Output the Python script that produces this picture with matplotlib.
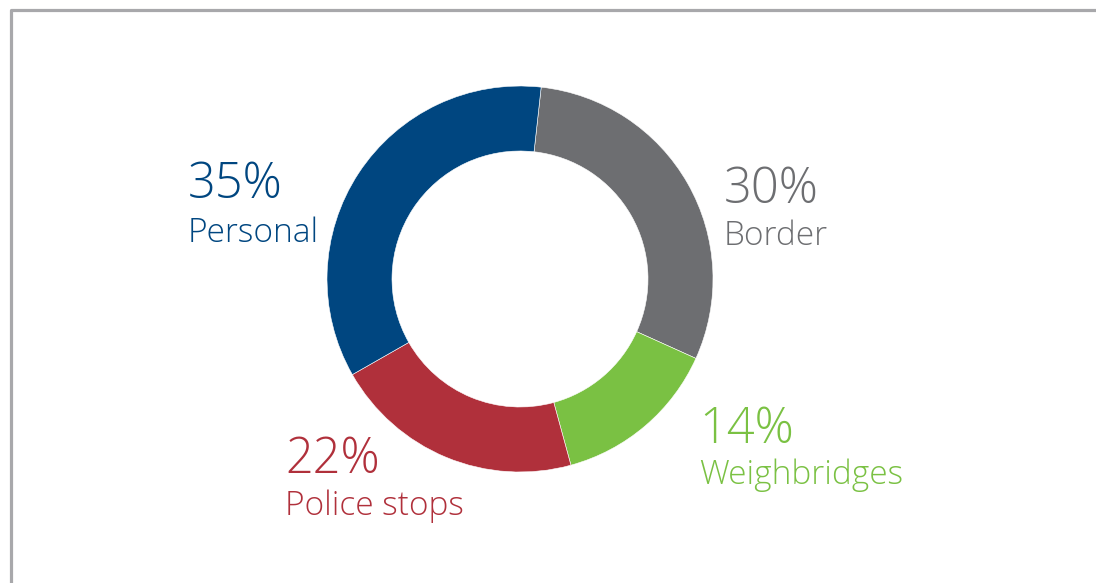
import matplotlib.pyplot as plt

# data (clockwise from top)
labels = ['Border', 'Weighbridges', 'Police stops', 'Personal']
pct_text = ['30%', '14%', '22%', '35%']
# slice sizes as drawn in the picture (measured from the arc angles)
shares = [30, 14, 21, 35]
colours = ['#6D6E71', '#7AC143', '#B0303B', '#004680']

# label anchor (pixel coords, top-down) for each segment
label_x = [724, 699, 285, 188]
pct_base = [203, 443, 473, 198]
name_base = [245, 484, 515, 242]

W, H = 1096, 583
fig = plt.figure(figsize=(W / 100, H / 100), dpi=100)
ax = fig.add_axes([0, 0, 1, 1])

# grey frame (left + top, runs off the page)
ax.plot([11, 11, W + 5], [-5, H - 9.5, H - 9.5], color='#A8A8AB',
        linewidth=2.3, solid_capstyle='butt')

cx, cy, r_out, r_in = 520, H - 279, 193, 128
ax.pie(shares, colors=colours, startangle=83.7, counterclock=False,
       center=(cx, cy), radius=r_out, frame=True,
       wedgeprops=dict(width=r_out - r_in, linewidth=0.4, edgecolor='white'))
ax.set_xlim(0, W)
ax.set_ylim(0, H)
ax.set_aspect('equal')
ax.axis('off')

for i in range(len(labels)):
    ax.text(label_x[i], H - pct_base[i], pct_text[i], color=colours[i],
            fontsize=35, family='Open Sans', fontweight='light',
            ha='left', va='baseline')
    ax.text(label_x[i], H - name_base[i], labels[i], color=colours[i],
            fontsize=24, family='Open Sans', fontweight='light',
            ha='left', va='baseline')

fig.savefig('out.png', dpi=100, facecolor='white')
